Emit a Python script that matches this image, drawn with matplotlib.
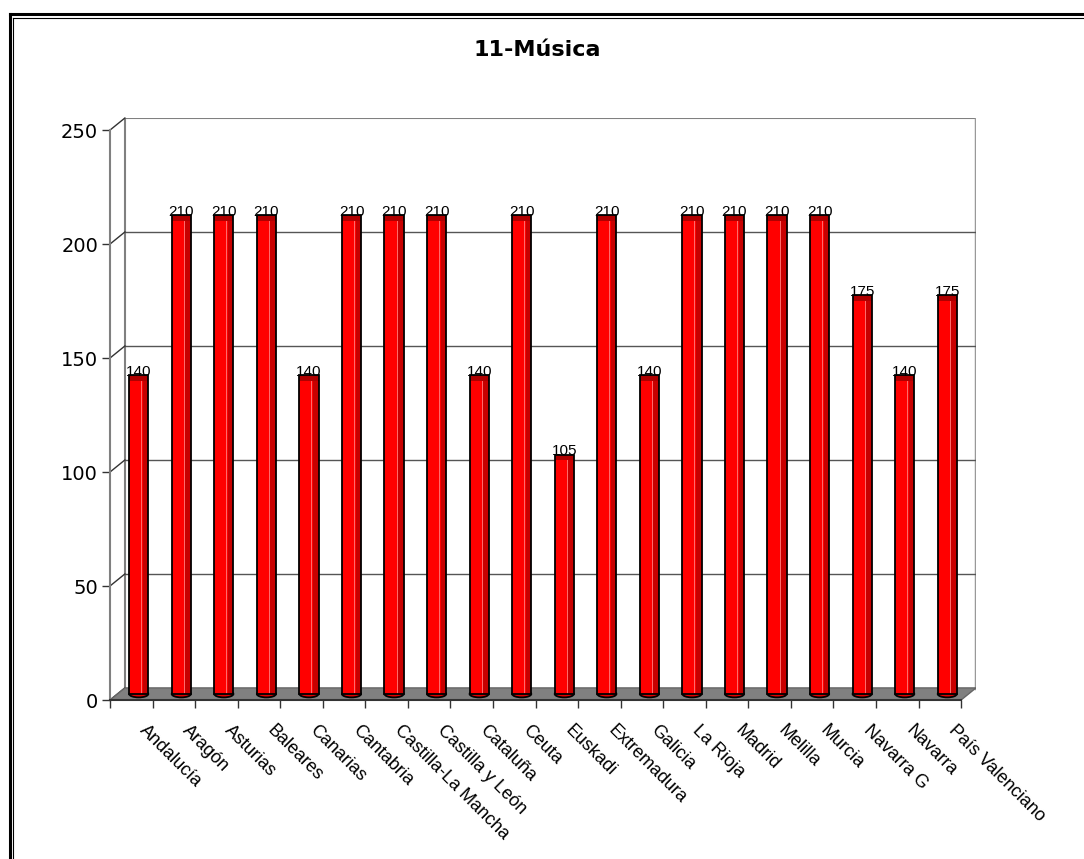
import matplotlib.pyplot as plt
from matplotlib.patches import Polygon, Ellipse
from matplotlib.lines import Line2D
from matplotlib.transforms import ScaledTranslation


regiones = [
    "Andalucía", "Aragón", "Asturias", "Baleares", "Canarias", "Cantabria",
    "Castilla-La Mancha", "Castilla y León", "Cataluña", "Ceuta", "Euskadi",
    "Extremadura", "Galicia", "La Rioja", "Madrid", "Melilla", "Murcia",
    "Navarra G", "Navarra", "País Valenciano",
]
valores = [140, 210, 210, 210, 140, 210, 210, 210, 140, 210,
           105, 210, 140, 210, 210, 210, 210, 175, 140, 175]
yticks = [0, 50, 100, 150, 200, 250]
titulo = "11-Música"

W, H = 1084, 859
DPI = 100

# profundidad del efecto 3D (unidades de datos)
DX = 0.35
DY = 5.3
YMAX = 250
ANCHO = 0.45


def main():
    n = len(valores)
    fig = plt.figure(figsize=(W / DPI, H / DPI), dpi=DPI)
    ax = fig.add_axes([110 / W, (H - 700) / H, (976 - 110) / W, (700 - 118) / H])
    ax.set_xlim(0, n + DX)
    ax.set_ylim(0, YMAX + DY)

    for s in ("top", "right"):
        ax.spines[s].set_visible(False)
    ax.spines["left"].set_color("#808080")
    ax.spines["left"].set_linewidth(1.5)
    ax.spines["left"].set_bounds(0, YMAX)
    ax.spines["bottom"].set_color("#333333")
    ax.spines["bottom"].set_linewidth(1.5)
    ax.spines["bottom"].set_bounds(0, n)

    ax.set_xticks(range(n + 1))
    ax.set_xticklabels([])
    ax.tick_params(axis="x", length=6, color="#333333", width=1)
    ax.set_yticks(yticks)
    ax.set_yticklabels([str(v) for v in yticks], fontsize=14, family="DejaVu Sans")
    ax.tick_params(axis="y", length=5.5, pad=3, color="#333333", width=1)

    # pared del fondo
    gris = "#808080"
    ax.plot([DX, DX], [DY, YMAX + DY], color=gris, lw=1.5, zorder=1)
    ax.plot([DX, n + DX], [YMAX + DY] * 2, color=gris, lw=1.5, zorder=1)
    ax.plot([n + DX, n + DX], [DY, YMAX + DY], color="#999999", lw=2.5, zorder=1)
    for v in yticks[1:-1]:
        ax.plot([DX, n + DX], [v + DY] * 2, color="#555555", lw=1, zorder=1)
    for v in yticks:
        ax.plot([0, DX], [v, v + DY], color="#333333", lw=1, zorder=1, clip_on=False)

    # suelo
    suelo = Polygon([(0, 0), (n, 0), (n + DX, DY), (DX, DY)],
                    facecolor="#808080", edgecolor="#666666", lw=1, zorder=2)
    ax.add_patch(suelo)

    xs = [i + 0.5 + DX / 2 for i in range(n)]
    base = DY / 2

    for x in xs:
        ax.add_patch(Ellipse((x, base), ANCHO, 3.0, facecolor="#e00000",
                             edgecolor="black", lw=1.3, zorder=2.5))
    ax.bar(xs, valores, width=ANCHO, bottom=base, color="#ff0000", zorder=3)
    ax.bar([x + ANCHO / 2 - 0.07 for x in xs], valores, width=0.12, bottom=base,
           color="#c80000", zorder=3.2)
    ax.bar([x + 0.07 for x in xs], valores, width=0.025, bottom=base,
           color="#ff6a6a", zorder=3.2)
    ax.bar(xs, [2.5] * n, width=ANCHO, bottom=[v + base - 2.5 for v in valores],
           color="#b00000", zorder=3.3)
    ax.bar(xs, valores, width=ANCHO, bottom=base, facecolor="none",
           edgecolor="black", lw=1.3, zorder=3.5)

    for x, v in zip(xs, valores):
        ax.text(x, v + base + 1.4, str(v), ha="center", va="center",
                fontsize=11, family="Liberation Sans", zorder=5)

    desplaz = ax.transData + ScaledTranslation(17 / DPI, -22 / DPI, fig.dpi_scale_trans)
    for i, lab in enumerate(regiones):
        ax.text(i + 0.5, 0, lab, rotation=-45, ha="left", va="top",
                rotation_mode="anchor", fontsize=13, family="Liberation Sans",
                transform=desplaz, clip_on=False)

    fig.text(537 / W, 1 - 50 / H, titulo, ha="center", va="center",
             fontsize=16, fontweight="bold", family="DejaVu Sans")

    # marco doble
    fig.add_artist(Line2D([10 / W, 1], [1 - 14 / H] * 2, color="black", lw=2.2))
    fig.add_artist(Line2D([13 / W, 1], [1 - 17.5 / H] * 2, color="black", lw=0.8))
    fig.add_artist(Line2D([10 / W] * 2, [0, 1 - 14 / H], color="black", lw=2.2))
    fig.add_artist(Line2D([13 / W] * 2, [0, 1 - 17.5 / H], color="black", lw=0.8))

    fig.savefig("out.png", dpi=DPI, facecolor="white")


if __name__ == "__main__":
    main()
